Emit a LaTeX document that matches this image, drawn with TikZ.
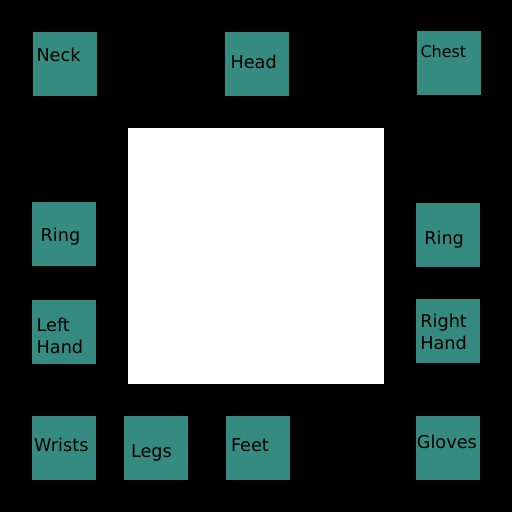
\documentclass[tikz,border=0pt]{standalone}
\usepackage{fontspec}
\setmainfont{DejaVu Sans}
\usepackage{tikz}
\definecolor{slotteal}{RGB}{54,139,128}

\begin{document}
\begin{tikzpicture}[x=1pt,y=-1pt,
  slot/.style={fill=slotteal, draw=none, minimum size=64pt, inner sep=0pt},
  slotname/.style={anchor=base west, inner sep=0pt, black, font=\fontsize{17.7}{22}\selectfont, align=left}]
  \fill[black] (0,0) rectangle (512,512);
  \useasboundingbox (0,0) rectangle (512,512);
   \node[fill=white, minimum size=256pt, inner sep=0pt] (board) at (256,256) {};
  % top row
   \node[slot] (neckbox) at (65,64) {};
   \node[slot] (headbox) at (257,64) {};
   \node[slot] (chestbox) at (449,63) {};
  % sides
   \node[slot] (ringLbox) at (64,234) {};
   \node[slot] (ringRbox) at (448,235) {};
   \node[slot] (lefthandbox) at (64,332) {};
   \node[slot] (righthandbox) at (448,331) {};
  % bottom row
   \node[slot] (wristsbox) at (64,448) {};
   \node[slot] (legsbox) at (156,448) {};
   \node[slot] (feetbox) at (258,448) {};
   \node[slot] (glovesbox) at (448,448) {};
  % names (base of last line)
    \node[slotname] (neck) at (36.3,61) {Neck};
    \node[slotname] (head) at (230.3,68) {Head};
    \node[slotname, font=\fontsize{16}{19}\selectfont] (chest) at (420.3,57) {Chest};
    \node[slotname] (ringL) at (40.4,241.3) {Ring};
    \node[slotname] (ringR) at (424.1,244.3) {Ring};
    \node[slotname] (lefthand) at (36.4,353) {Left\\Hand};
    \node[slotname] (righthand) at (420.1,349.5) {Right\\Hand};
    \node[slotname] (wrists) at (34,451) {Wrists};
    \node[slotname] (legs) at (130.8,457.7) {Legs};
    \node[slotname] (feet) at (230.8,451) {Feet};
    \node[slotname] (gloves) at (416.6,448) {Gloves};
\end{tikzpicture}
\end{document}
